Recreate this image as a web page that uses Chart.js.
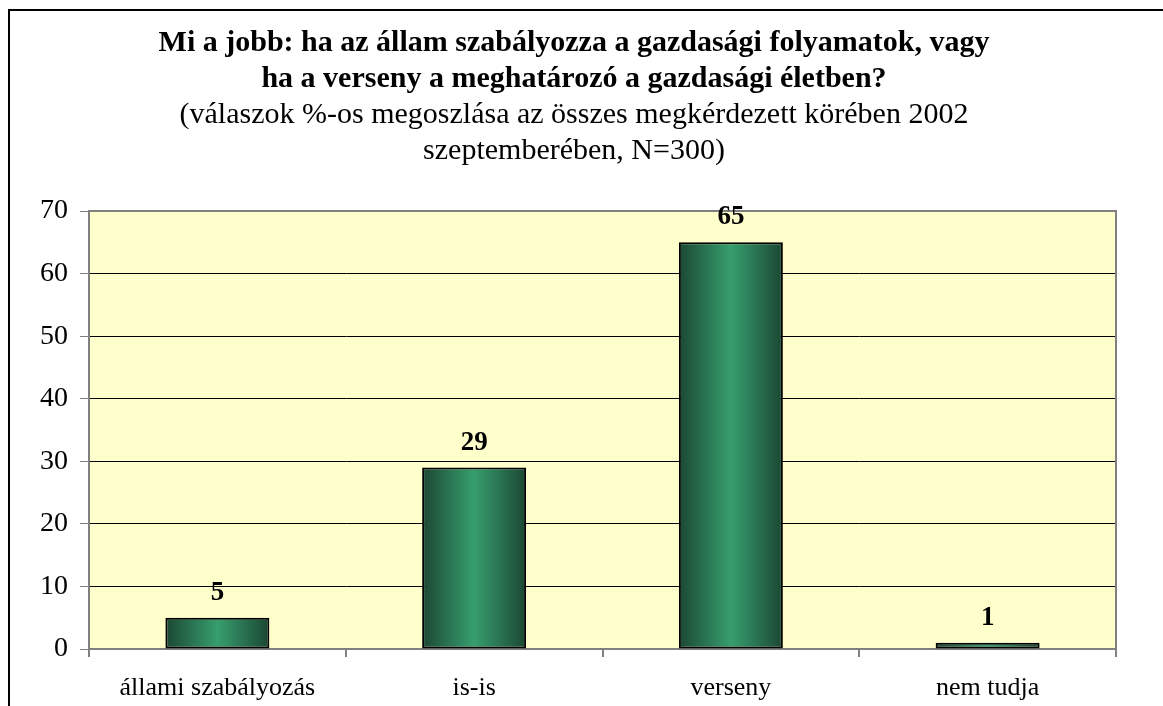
<!DOCTYPE html>
<html>
<head>
<meta charset="utf-8">
<script src="https://cdn.jsdelivr.net/npm/chart.js@4"></script>
<style>
  html, body { margin: 0; padding: 0; background: #fff; overflow: hidden; }
  #frame { position: absolute; left: 8px; top: 9px; width: 1200px; height: 760px; border: 2px solid #000; }
  #wrap { position: absolute; left: 0; top: 0; width: 1163px; height: 706px; }
</style>
</head>
<body>
<div id="frame"></div>
<div id="wrap"><canvas id="chart" width="1163" height="706"></canvas></div>
<script>
const categories = ['állami szabályozás', 'is-is', 'verseny', 'nem tudja'];
const values = [5, 29, 65, 1];
const yTicks = [0, 10, 20, 30, 40, 50, 60, 70];
const titleLines = ['Mi a jobb: ha az állam szabályozza a gazdasági folyamatok, vagy',
                    'ha a verseny a meghatározó a gazdasági életben?'];
const subtitleLines = ['(válaszok %-os megoszlása az összes megkérdezett körében 2002',
                       'szeptemberében, N=300)'];

const serif = '"Liberation Serif", "Times New Roman", serif';
const barPct = 0.405;

// plot background + gray frame
const plotArea = {
    id: 'plotArea',
    beforeDraw(chart) {
        const { ctx, chartArea: a } = chart;
        ctx.save();
        ctx.fillStyle = '#FFFFCC';
        ctx.fillRect(a.left, a.top, a.right - a.left, a.bottom - a.top);
        ctx.restore();
    },
    afterDatasetsDraw(chart) {
        const { ctx, chartArea: a } = chart;
        ctx.save();
        ctx.strokeStyle = '#808080';
        ctx.lineWidth = 2;
        ctx.beginPath();
        ctx.moveTo(a.left, a.top);
        ctx.lineTo(a.right, a.top);
        ctx.lineTo(a.right, a.bottom);
        ctx.stroke();
        ctx.restore();
    }
};

// value labels above bars
const valueLabels = {
    id: 'valueLabels',
    afterDatasetsDraw(chart) {
        const { ctx } = chart;
        const meta = chart.getDatasetMeta(0);
        ctx.save();
        ctx.font = 'bold 27px ' + serif;
        ctx.fillStyle = '#000';
        ctx.textAlign = 'center';
        ctx.textBaseline = 'middle';
        meta.data.forEach((bar, i) => {
            ctx.fillText(String(values[i]), bar.x, bar.y - 25);
        });
        ctx.restore();
    }
};

function barFill(context) {
    const chart = context.chart;
    const a = chart.chartArea;
    if (!a) return '#2e8b5e';
    const xs = chart.scales.x;
    const cx = xs.getPixelForValue(context.dataIndex);
    const w = (a.right - a.left) / categories.length * barPct;
    const g = chart.ctx.createLinearGradient(cx - w / 2, 0, cx + w / 2, 0);
    g.addColorStop(0, '#1b4733');
    g.addColorStop(0.5, '#379e6e');
    g.addColorStop(1, '#1b4733');
    return g;
}

new Chart(document.getElementById('chart'), {
    type: 'bar',
    data: {
        labels: categories,
        datasets: [{
            data: values,
            backgroundColor: barFill,
            borderColor: '#000',
            borderWidth: 2,
            borderSkipped: false,
            categoryPercentage: 1,
            barPercentage: barPct
        }]
    },
    options: {
        responsive: false,
        animation: false,
        layout: { padding: { left: 32, right: 47, top: 0, bottom: 0 } },
        plugins: {
            legend: { display: false },
            tooltip: { enabled: false },
            title: {
                display: true,
                text: titleLines,
                color: '#000',
                font: { family: serif, size: 30, weight: 'bold', lineHeight: 1.2 },
                padding: { top: 25, bottom: 0 }
            },
            subtitle: {
                display: true,
                text: subtitleLines,
                color: '#000',
                font: { family: serif, size: 30, weight: 'normal', lineHeight: 1.2 },
                padding: { top: 0, bottom: 42 }
            }
        },
        scales: {
            x: {
                offset: true,
                grid: { offset: true, drawOnChartArea: false, color: '#808080', tickLength: 8, lineWidth: 2 },
                border: { display: true, color: '#808080', width: 2 },
                ticks: { color: '#000', font: { family: serif, size: 26 }, padding: 16, maxRotation: 0 },
                afterFit(scale) { scale.height = 57; }
            },
            y: {
                min: 0,
                max: 70,
                afterBuildTicks(scale) { scale.ticks = yTicks.map(v => ({ value: v })); },
                grid: { color: '#000', tickLength: 9, tickColor: '#808080', lineWidth: 1 },
                border: { display: true, color: '#808080', width: 2 },
                ticks: { color: '#000', font: { family: serif, size: 28 }, padding: 12 },
                afterFit(scale) { scale.width = 57; }
            }
        }
    },
    plugins: [plotArea, valueLabels]
});
</script>
</body>
</html>
